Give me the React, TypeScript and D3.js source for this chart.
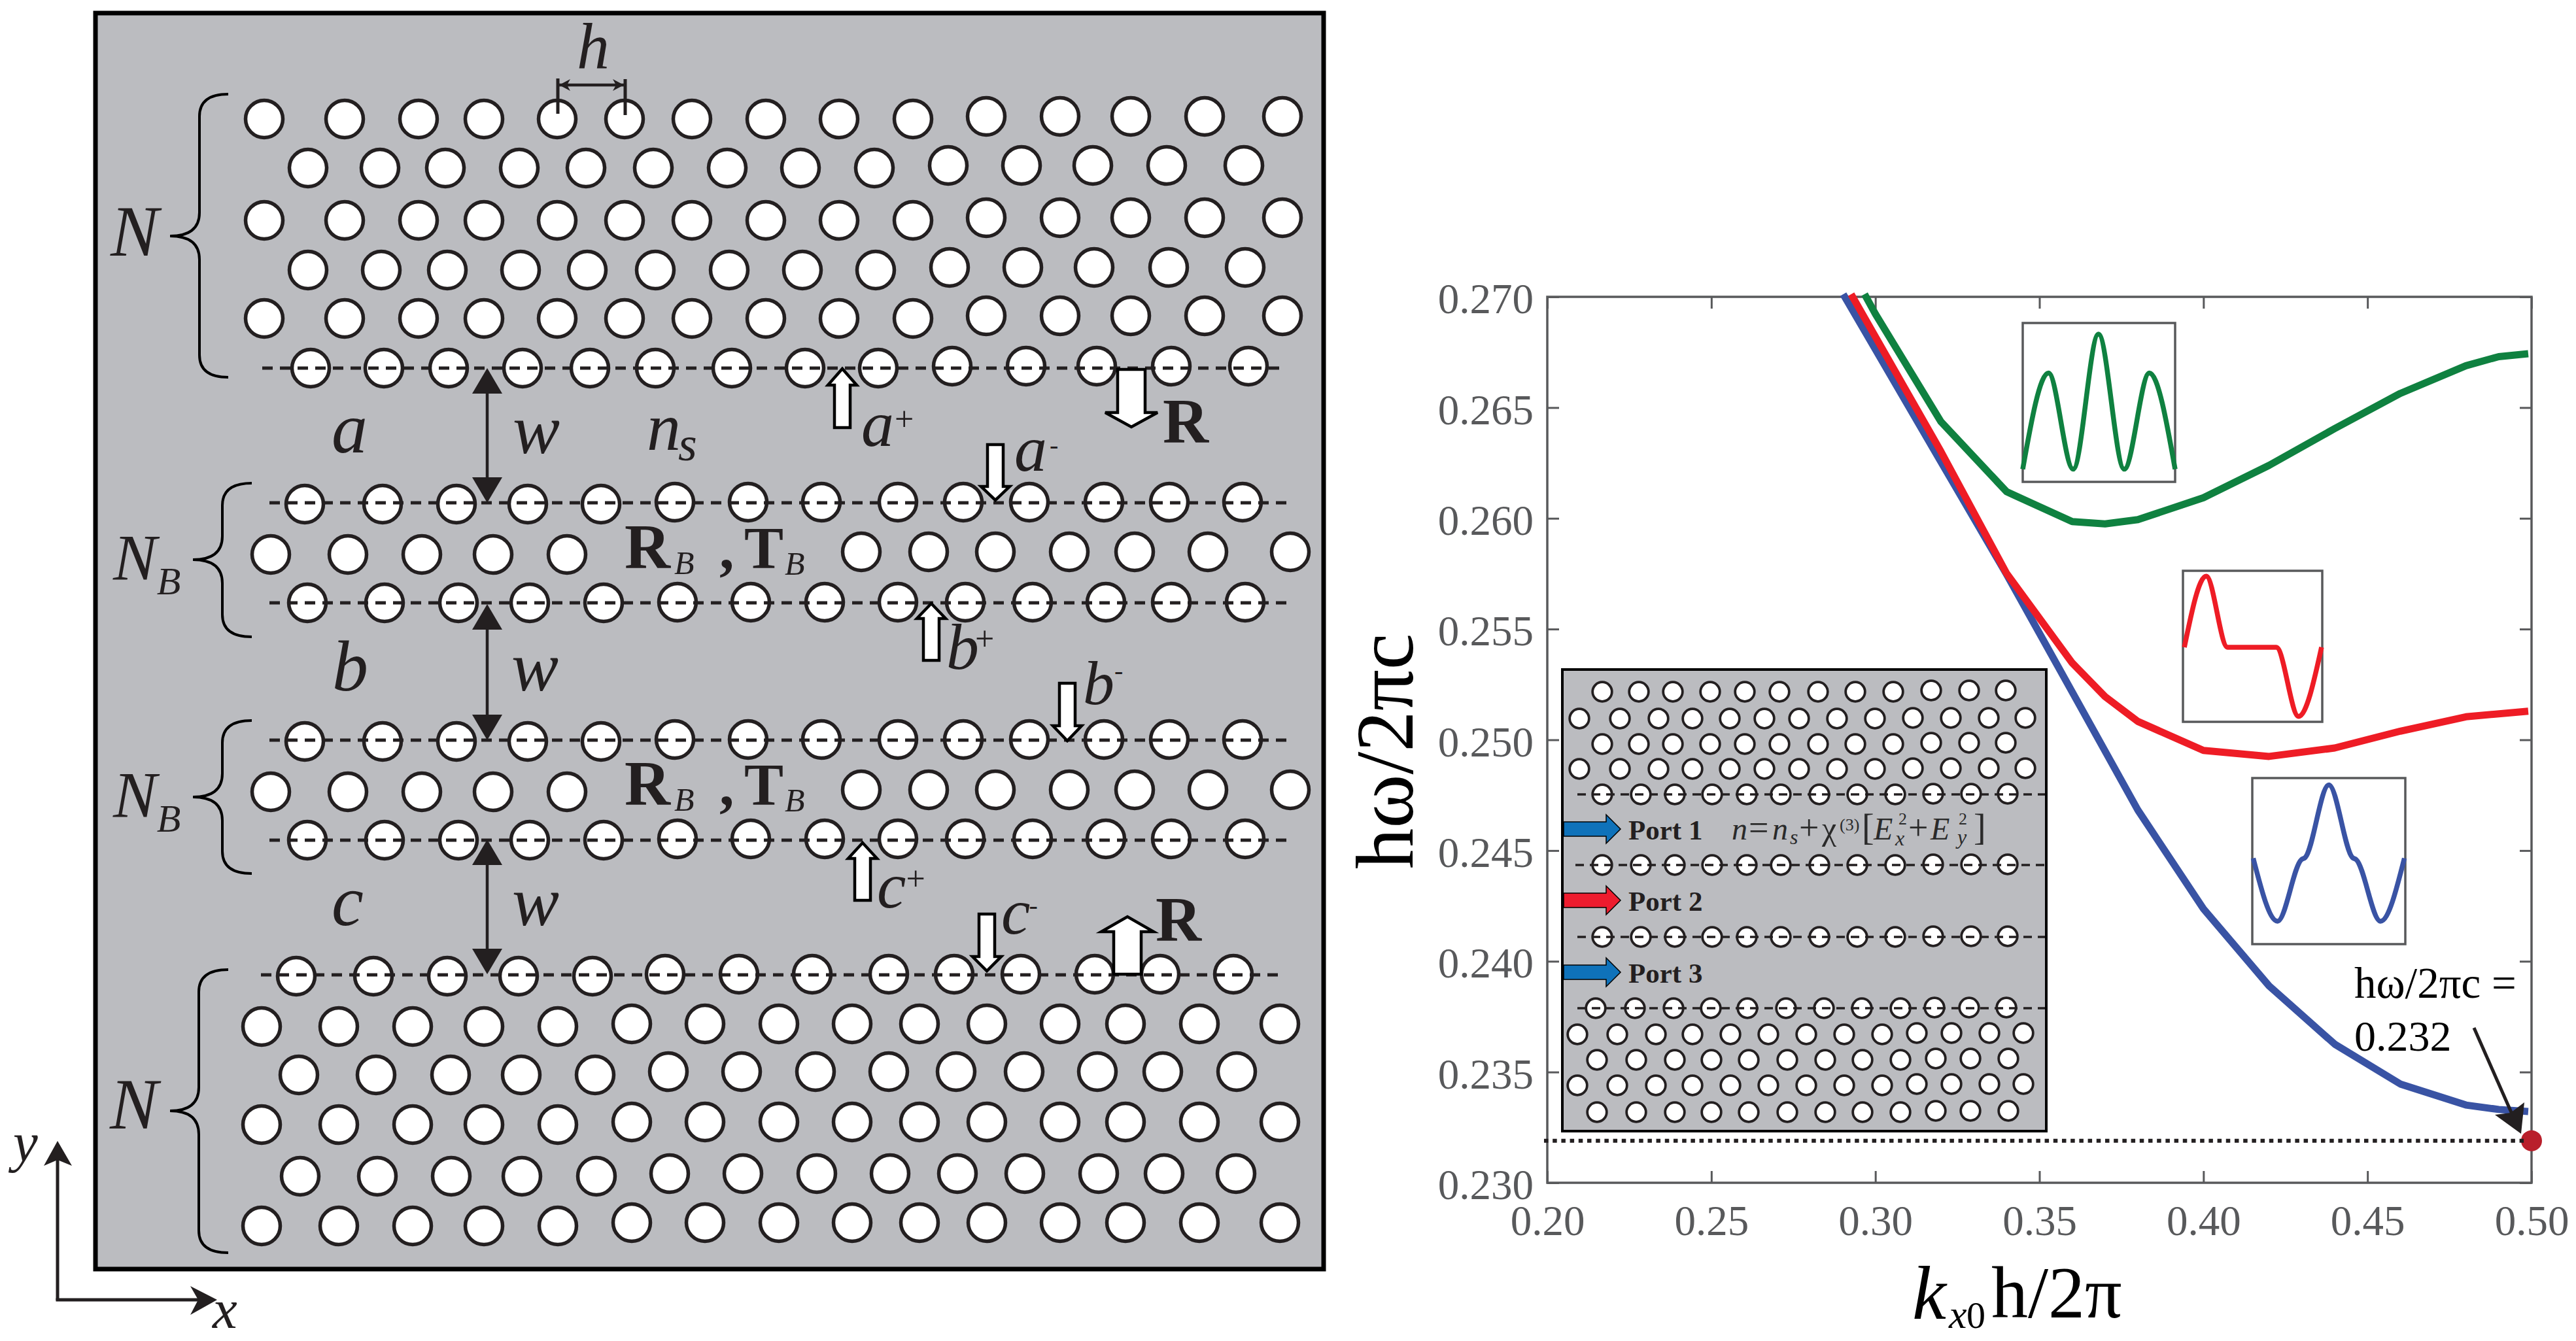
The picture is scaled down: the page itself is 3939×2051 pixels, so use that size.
import * as d3 from "d3";
import React, { useEffect, useRef } from "react";

const WIDTH = 3939;
const HEIGHT = 2051;
const SERIF = "'Liberation Serif', 'Times New Roman', serif";
const INK = "#231f20";
const GREY = "#58595b";
const PANEL = "#bbbcc0";

// dispersion curves
const greenK = [0.2967, 0.3, 0.32, 0.34, 0.36, 0.37, 0.38, 0.4, 0.42, 0.44, 0.46, 0.48, 0.49, 0.499];
const greenW = [0.27012, 0.26923, 0.26436, 0.2612, 0.25985, 0.25975, 0.25994, 0.26093, 0.26239, 0.26405, 0.26564, 0.26689, 0.2673, 0.26743];
const redK = [0.2926, 0.32, 0.34, 0.36, 0.37, 0.38, 0.4, 0.42, 0.44, 0.46, 0.48, 0.499];
const redW = [0.27012, 0.26301, 0.25751, 0.25347, 0.25195, 0.25083, 0.24952, 0.24925, 0.24963, 0.25039, 0.25104, 0.25129];
const blueK = [0.2902, 0.32, 0.34, 0.36, 0.38, 0.4, 0.42, 0.44, 0.46, 0.48, 0.49, 0.499];
const blueW = [0.27012, 0.26255, 0.25747, 0.25216, 0.24683, 0.24237, 0.23889, 0.23626, 0.23446, 0.23351, 0.23331, 0.23322];

const xTicks = [0.2, 0.25, 0.3, 0.35, 0.4, 0.45, 0.5];
const yTicks = [0.23, 0.235, 0.24, 0.245, 0.25, 0.255, 0.26, 0.265, 0.27];
const cutoffK = 0.5;
const cutoffW = 0.2319;

// mode profiles shown in the small boxes (t across the box, v up the box)
const greenModeT = [0, 0.169, 0.331, 0.497, 0.666, 0.831, 1];
const greenModeV = [0.08, 0.685, 0.08, 0.93, 0.08, 0.685, 0.08];
const redModeT = [0.01, 0.167, 0.32, 0.67, 0.83, 0.995];
const redModeV = [0.494, 0.964, 0.494, 0.494, 0.036, 0.494];
const blueModeT = [0.006, 0.165, 0.32, 0.346, 0.5, 0.654, 0.68, 0.838, 0.994];
const blueModeV = [0.517, 0.138, 0.508, 0.522, 0.959, 0.522, 0.508, 0.138, 0.517];

// hole columns of the main schematic, one list per row type
const topOddX = [404, 527, 640, 740, 852, 955, 1058, 1171, 1283, 1396, 1508, 1621, 1729, 1842, 1961];
const topEvenX = [471, 581, 681, 794, 896, 999, 1112, 1224, 1337, 1450, 1562, 1671, 1784, 1902];
const topEven2X = [471, 583, 684, 796, 898, 1002, 1115, 1227, 1339, 1452, 1564, 1673, 1787, 1904];
const topEdgeX = [475, 587, 686, 799, 902, 1002, 1119, 1231, 1343, 1456, 1569, 1677, 1791, 1909];
const bandUpperX = [466, 585, 698, 807, 919, 1032, 1144, 1256, 1373, 1473, 1574, 1688, 1788, 1900];
const bandMidX = [414, 532, 645, 754, 867, 1317, 1420, 1522, 1635, 1735, 1847, 1973];
const bandLowerX = [470, 588, 701, 810, 923, 1036, 1148, 1261, 1373, 1476, 1579, 1691, 1791, 1904];
const bottomEdgeX = [453, 571, 684, 793, 906, 1017, 1130, 1242, 1359, 1459, 1561, 1674, 1774, 1886];
const bottomOddX = [400, 518, 631, 740, 853, 966, 1078, 1191, 1303, 1406, 1509, 1621, 1721, 1834, 1957];
const bottomEvenX = [457, 575, 689, 797, 910, 1022, 1134, 1247, 1359, 1462, 1566, 1678, 1778, 1891];
const bottomEven2X = [459, 577, 690, 798, 912, 1024, 1136, 1249, 1361, 1464, 1567, 1680, 1780, 1890];

type Row = [number[], number, number, number]; // xs, y left, y right, first index of right part

const mainRows: Row[] = [
  [topOddX, 182, 178, 10],
  [topEvenX, 257, 253, 9],
  [topOddX, 337, 333, 10],
  [topEven2X, 413, 409, 9],
  [topOddX, 487, 483, 10],
  [topEdgeX, 563, 560, 9],
  [bandUpperX, 771, 768, 5],
  [bandMidX, 848, 844, 5],
  [bandLowerX, 922, 921, 5],
  [bandUpperX, 1134, 1131, 5],
  [bandMidX, 1211, 1208, 5],
  [bandLowerX, 1285, 1283, 5],
  [bottomEdgeX, 1493, 1490, 5],
  [bottomOddX, 1570, 1566, 5],
  [bottomEvenX, 1644, 1639, 5],
  [bottomOddX, 1720, 1716, 5],
  [bottomEven2X, 1799, 1795, 5],
  [bottomOddX, 1875, 1870, 5],
];
const mainDashes = [
  [401, 1961, 563],
  [412, 1973, 769],
  [412, 1973, 922],
  [412, 1973, 1132],
  [412, 1973, 1285],
  [399, 1959, 1491],
];

// hole columns of the small inset schematic
const insetOddX = [2450, 2506, 2558, 2615, 2668, 2721, 2780, 2837, 2895, 2953, 3011, 3067];
const insetEvenX = [2415, 2477, 2536, 2588, 2645, 2698, 2751, 2809, 2867, 2925, 2983, 3041, 3097];
const insetEdgeX = [2450, 2509, 2561, 2618, 2671, 2723, 2782, 2840, 2898, 2956, 3014, 3070];
const insetLowEdgeX = [2440, 2500, 2559, 2616, 2672, 2731, 2789, 2847, 2906, 2958, 3011, 3068];
const insetLowOddX = [2412, 2473, 2532, 2588, 2646, 2704, 2762, 2820, 2878, 2931, 2984, 3042, 3094];
const insetLowEvenX = [2442, 2502, 2561, 2617, 2674, 2733, 2791, 2848, 2906, 2960, 3013, 3071];

const insetRows: Row[] = [
  [insetOddX, 1058, 1056, 9],
  [insetEvenX, 1099, 1098, 9],
  [insetOddX, 1138, 1136, 9],
  [insetEvenX, 1176, 1175, 9],
  [insetEdgeX, 1215, 1214, 9],
  [insetEdgeX, 1323, 1322, 9],
  [insetEdgeX, 1433, 1432, 9],
  [insetLowEdgeX, 1542, 1541, 9],
  [insetLowOddX, 1582, 1580, 9],
  [insetLowEvenX, 1621, 1619, 9],
  [insetLowOddX, 1660, 1658, 9],
  [insetLowEvenX, 1701, 1699, 9],
];
const insetDashes = [
  [2412, 3127, 1215],
  [2409, 3127, 1323],
  [2412, 3127, 1433],
  [2412, 3127, 1542],
];

const portNames = ["Port 1", "Port 2", "Port 3"];
const portColors = ["#0f72ba", "#ed1c2e", "#0f72ba"];
const portY = [1268, 1377, 1487];

const App: React.FC = () => {
  const ref = useRef<SVGSVGElement | null>(null);

  useEffect(() => {
    if (!ref.current) return;
    const svg = d3.select(ref.current);
    svg.selectAll("*").remove();

    const label = (
      text: string,
      x: number,
      y: number,
      size: number,
      style: "italic" | "normal" = "italic",
      weight: "bold" | "normal" = "normal",
      fill: string = INK
    ) =>
      svg
        .append("text")
        .attr("x", x)
        .attr("y", y)
        .attr("font-family", SERIF)
        .attr("font-size", size)
        .attr("font-style", style)
        .attr("font-weight", weight)
        .attr("fill", fill)
        .text(text);

    // letter with a sub or superscript inside one text element
    const labelWithIndex = (
      text: string,
      index: string,
      x: number,
      y: number,
      size: number,
      indexSize: number,
      dx: number,
      dy: number,
      indexStyle: "italic" | "normal" = "italic"
    ) =>
      label(text, x, y, size)
        .append("tspan")
        .attr("dx", dx)
        .attr("dy", dy)
        .attr("font-size", indexSize)
        .attr("font-style", indexStyle)
        .text(index);

    const drawHoles = (rows: Row[], r: number, sw: number) => {
      const holes = rows.flatMap(([xs, yL, yR, split]) =>
        xs.map((x, i) => ({ x, y: i < split ? yL : yR }))
      );
      svg
        .append("g")
        .selectAll("circle")
        .data(holes)
        .join("circle")
        .attr("cx", (d) => d.x)
        .attr("cy", (d) => d.y)
        .attr("r", r)
        .attr("fill", "white")
        .attr("stroke", INK)
        .attr("stroke-width", sw);
    };

    const drawDashes = (rows: number[][], sw: number, pattern: string) => {
      svg
        .append("g")
        .selectAll("line")
        .data(rows)
        .join("line")
        .attr("x1", (d) => d[0])
        .attr("x2", (d) => d[1])
        .attr("y1", (d) => d[2])
        .attr("y2", (d) => d[2])
        .attr("stroke", INK)
        .attr("stroke-width", sw)
        .attr("stroke-dasharray", pattern);
    };

    const poly = (pts: number[][], fill: string, stroke = "none", sw = 0) =>
      svg
        .append("polygon")
        .attr("points", pts.map((p) => p.join(",")).join(" "))
        .attr("fill", fill)
        .attr("stroke", stroke)
        .attr("stroke-width", sw)
        .attr("stroke-linejoin", "miter");

    const segment = (x1: number, y1: number, x2: number, y2: number, sw: number, color = INK) =>
      svg
        .append("line")
        .attr("x1", x1)
        .attr("y1", y1)
        .attr("x2", x2)
        .attr("y2", y2)
        .attr("stroke", color)
        .attr("stroke-width", sw);

    // ---- left schematic ----
    svg
      .append("rect")
      .attr("x", 146)
      .attr("y", 20)
      .attr("width", 1878)
      .attr("height", 1921)
      .attr("fill", PANEL)
      .attr("stroke", "#000")
      .attr("stroke-width", 7);

    drawHoles(mainRows, 28.5, 5.5);
    drawDashes(mainDashes, 5, "16 11");

    // braces
    const brace = (tip: number, spine: number, end: number, y0: number, mid: number, y1: number) => {
      const path = d3.path();
      path.moveTo(end, y0);
      path.quadraticCurveTo(spine, y0, spine, y0 + 34);
      path.lineTo(spine, mid - 36);
      path.quadraticCurveTo(spine, mid, tip, mid);
      path.quadraticCurveTo(spine, mid, spine, mid + 36);
      path.lineTo(spine, y1 - 34);
      path.quadraticCurveTo(spine, y1, end, y1);
      svg
        .append("path")
        .attr("d", path.toString())
        .attr("fill", "none")
        .attr("stroke", "#000")
        .attr("stroke-width", 4);
    };
    brace(260, 305, 349, 144, 361, 577);
    brace(295, 340, 385, 739, 856, 974);
    brace(295, 340, 385, 1102, 1219, 1336);
    brace(260, 304, 349, 1483, 1699, 1916);

    // h marker
    segment(853, 120, 853, 174, 5);
    segment(956, 121, 956, 176, 5);
    segment(853, 130, 956, 130, 4.5);
    poly([[855, 130], [872, 121], [867, 130], [872, 139]], INK);
    poly([[954, 130], [937, 121], [942, 130], [937, 139]], INK);

    // gap arrows
    const gapHead = (x: number, tipY: number, tailY: number) => {
      const dir = tailY > tipY ? 1 : -1;
      poly([[x, tipY], [x - 23, tipY + dir * 39], [x + 23, tipY + dir * 39]], INK);
    };
    [
      [563, 769],
      [924, 1132],
      [1284, 1490],
    ].forEach(([a, b]) => {
      segment(745, a + 30, 745, b - 30, 4.5);
      gapHead(745, a, b);
      gapHead(745, b, a);
    });

    // hollow arrows
    const hollow = (x: number, tail: number, base: number, tip: number, shaft: number, head: number) =>
      poly(
        [
          [x - shaft, tail],
          [x + shaft, tail],
          [x + shaft, base],
          [x + head, base],
          [x, tip],
          [x - head, base],
          [x - shaft, base],
        ],
        "white",
        "#000",
        4.5
      );
    hollow(1288, 654, 589, 564, 12, 22);
    hollow(1522, 680, 744, 765, 12, 22);
    hollow(1424, 1010, 946, 923, 12, 22);
    hollow(1632, 1045, 1110, 1133, 12, 22);
    hollow(1319, 1377, 1313, 1289, 12, 22);
    hollow(1509, 1398, 1463, 1485, 12, 22);
    hollow(1730, 565, 631, 653, 21, 40);
    hollow(1724, 1490, 1425, 1402, 21, 40);

    // schematic text
    label("h", 882, 104, 100);
    label("N", 169, 391, 110);
    labelWithIndex("N", "B", 173, 886, 100, 60, 0, 23);
    labelWithIndex("N", "B", 173, 1249, 100, 60, 0, 23);
    label("N", 168, 1726, 110);
    label("a", 507, 692, 110);
    label("b", 508, 1056, 110);
    label("c", 507, 1415, 110);
    label("w", 784, 693, 108);
    label("w", 782, 1056, 108);
    label("w", 783, 1415, 108);
    labelWithIndex("n", "s", 989, 688, 104, 74, -4, 16);
    [869, 1231].forEach((y) => {
      label("R", 955, y, 97, "normal", "bold");
      label("B", 1031, y + 9, 50);
      label(",", 1100, y, 90, "normal", "bold");
      label("T", 1138, y, 90, "normal", "bold");
      label("B", 1200, y + 10, 50);
    });
    label("R", 1778, 677, 97, "normal", "bold");
    label("R", 1767, 1439, 97, "normal", "bold");
    labelWithIndex("a", "+", 1317, 682, 100, 52, 1, -24, "normal");
    labelWithIndex("a", "-", 1551, 720, 100, 40, 4, -26, "normal");
    labelWithIndex("b", "+", 1447, 1023, 100, 52, -6, -29, "normal");
    labelWithIndex("b", "-", 1656, 1077, 96, 40, 0, -38, "normal");
    labelWithIndex("c", "+", 1341, 1388, 100, 52, 0, -27, "normal");
    labelWithIndex("c", "-", 1531, 1428, 100, 40, -2, -30, "normal");

    // coordinate axes
    segment(88, 1989, 88, 1770, 5);
    segment(85.5, 1988, 310, 1988, 5);
    poly([[88, 1745], [110, 1783], [88, 1774], [67, 1783]], INK);
    poly([[332, 1988], [291, 2011], [303, 1988], [291, 1967]], INK);
    label("y", 20, 1776, 85);
    label("x", 325, 2031, 85);

    // ---- dispersion plot ----
    const margin = { top: 454, right: WIDTH - 3871, bottom: HEIGHT - 1809, left: 2366 };
    const x = d3.scaleLinear().domain([0.2, 0.5]).range([margin.left, WIDTH - margin.right]);
    const y = d3.scaleLinear().domain([0.23, 0.27]).range([HEIGHT - margin.bottom, margin.top]);

    const styleAxis = (g: d3.Selection<SVGGElement, unknown, null, undefined>) => {
      g.select(".domain").remove();
      g.selectAll(".tick line").attr("stroke", GREY).attr("stroke-width", 3);
      g.selectAll(".tick text")
        .attr("fill", GREY)
        .attr("font-family", SERIF)
        .attr("font-size", 65);
    };
    const bottom = svg
      .append("g")
      .attr("transform", `translate(0,${y(0.23)})`)
      .call(d3.axisBottom(x).tickValues(xTicks).tickSizeInner(-18).tickSizeOuter(0).tickPadding(34).tickFormat(d3.format(".2f") as any));
    styleAxis(bottom);
    const left = svg
      .append("g")
      .attr("transform", `translate(${x(0.2)},0)`)
      .call(d3.axisLeft(y).tickValues(yTicks).tickSizeInner(-18).tickSizeOuter(0).tickPadding(21).tickFormat(d3.format(".3f") as any));
    styleAxis(left);
    left.selectAll(".tick text").attr("dy", "0.38em");
    const top = svg
      .append("g")
      .attr("transform", `translate(0,${y(0.27)})`)
      .call(d3.axisTop(x).tickValues(xTicks).tickSizeInner(-18).tickSizeOuter(0).tickFormat(() => ""));
    styleAxis(top);
    const right = svg
      .append("g")
      .attr("transform", `translate(${x(0.5)},0)`)
      .call(d3.axisRight(y).tickValues(yTicks).tickSizeInner(-18).tickSizeOuter(0).tickFormat(() => ""));
    styleAxis(right);
    svg
      .append("rect")
      .attr("x", x(0.2))
      .attr("y", y(0.27))
      .attr("width", x(0.5) - x(0.2))
      .attr("height", y(0.23) - y(0.27))
      .attr("fill", "none")
      .attr("stroke", GREY)
      .attr("stroke-width", 3.5);

    // axis titles
    svg
      .append("text")
      .attr("transform", "translate(2160,1149) rotate(-90)")
      .attr("text-anchor", "middle")
      .attr("font-family", SERIF)
      .attr("font-size", 125)
      .attr("fill", "#000")
      .text("hω/2πc");
    label("k", 2924, 2017, 117, "italic", "normal", "#000");
    label("x", 2980, 2031, 62, "italic", "normal", "#000");
    label("0", 3007, 2031, 58, "normal", "normal", "#000");
    label("h/2π", 3045, 2015, 112, "normal", "normal", "#000");

    // band curves
    const line = d3
      .line<[number, number]>()
      .x((d) => x(d[0]))
      .y((d) => y(d[1]));
    const drawCurve = (ks: number[], ws: number[], color: string) =>
      svg
        .append("path")
        .attr("d", line(ks.map((k, i) => [k, ws[i]]))!)
        .attr("fill", "none")
        .attr("stroke", color)
        .attr("stroke-width", 11)
        .attr("stroke-linejoin", "round");
    drawCurve(blueK, blueW, "#3953a4");
    drawCurve(greenK, greenW, "#0f8140");
    drawCurve(redK, redW, "#ee1c25");

    // mode profile boxes
    const modeBox = (x0: number, x1: number, y0: number, y1: number, ts: number[], vs: number[], color: string) => {
      const bx = d3.scaleLinear().domain([0, 1]).range([x0, x1]);
      const by = d3.scaleLinear().domain([0, 1]).range([y1, y0]);
      const mode = d3
        .line<[number, number]>()
        .x((d) => bx(d[0]))
        .y((d) => by(d[1]))
        .curve(d3.curveMonotoneX);
      svg
        .append("rect")
        .attr("x", x0)
        .attr("y", y0)
        .attr("width", x1 - x0)
        .attr("height", y1 - y0)
        .attr("fill", "white")
        .attr("stroke", GREY)
        .attr("stroke-width", 3.5);
      svg
        .append("path")
        .attr("d", mode(ts.map((t, i) => [t, vs[i]]))!)
        .attr("fill", "none")
        .attr("stroke", color)
        .attr("stroke-width", 7.5);
    };
    modeBox(3093, 3326, 494, 737, greenModeT, greenModeV, "#0f8140");
    modeBox(3338, 3551, 873, 1104, redModeT, redModeV, "#ee1c25");
    modeBox(3444, 3678, 1190, 1444, blueModeT, blueModeV, "#3953a4");

    // inset schematic
    svg
      .append("rect")
      .attr("x", 2389)
      .attr("y", 1024)
      .attr("width", 740)
      .attr("height", 706)
      .attr("fill", PANEL)
      .attr("stroke", "#000")
      .attr("stroke-width", 4);
    drawHoles(insetRows, 14.8, 3.8);
    drawDashes(insetDashes, 3.5, "13 9");
    portNames.forEach((name, i) => {
      const cy = portY[i];
      poly(
        [
          [2391, cy - 11],
          [2456, cy - 11],
          [2456, cy - 22],
          [2478, cy],
          [2456, cy + 22],
          [2456, cy + 11],
          [2391, cy + 11],
        ],
        portColors[i],
        "#000",
        1.5
      );
      label(name, 2490, cy + 16, 43, "normal", "bold");
    });
    const ink2 = "#2a2a2a";
    label("n", 2648, 1284, 48, "italic", "normal", ink2);
    label("=", 2674, 1284, 54, "normal", "normal", ink2);
    label("n", 2710, 1284, 48, "italic", "normal", ink2);
    label("s", 2737, 1291, 32, "italic", "normal", ink2);
    label("+", 2751, 1284, 54, "normal", "normal", ink2);
    label("χ", 2786, 1284, 50, "normal", "normal", ink2);
    label("(3)", 2813, 1270, 26, "normal", "normal", ink2);
    label("[", 2847, 1284, 56, "normal", "normal", ink2);
    label("E", 2865, 1284, 48, "italic", "normal", ink2);
    label("x", 2898, 1293, 32, "italic", "normal", ink2);
    label("2", 2903, 1261, 26, "normal", "normal", ink2);
    label("+", 2918, 1284, 54, "normal", "normal", ink2);
    label("E", 2952, 1284, 48, "italic", "normal", ink2);
    label("y", 2993, 1291, 32, "italic", "normal", ink2);
    label("2", 2995, 1261, 26, "normal", "normal", ink2);
    label("]", 3018, 1284, 56, "normal", "normal", ink2);

    // cutoff point, line and note
    svg
      .append("circle")
      .attr("cx", x(cutoffK))
      .attr("cy", y(cutoffW))
      .attr("r", 16)
      .attr("fill", "#b91f2b");
    svg
      .append("line")
      .attr("x1", x(0.199))
      .attr("x2", x(0.4985))
      .attr("y1", y(cutoffW))
      .attr("y2", y(cutoffW))
      .attr("stroke", INK)
      .attr("stroke-width", 6)
      .attr("stroke-dasharray", "6.5 6.7");
    label("hω/2πc =", 3600, 1526, 67, "normal", "normal", "#000");
    label("0.232", 3600, 1607, 66, "normal", "normal", "#000");
    segment(3783, 1572, 3843, 1708, 5);
    poly([[3855, 1734], [3815, 1705], [3839, 1702], [3860, 1686]], INK);
  }, []);

  return (
    <svg
      ref={ref}
      width={WIDTH}
      height={HEIGHT}
      style={{ position: "absolute", left: 0, top: 0, background: "white" }}
    />
  );
};

export default App;
